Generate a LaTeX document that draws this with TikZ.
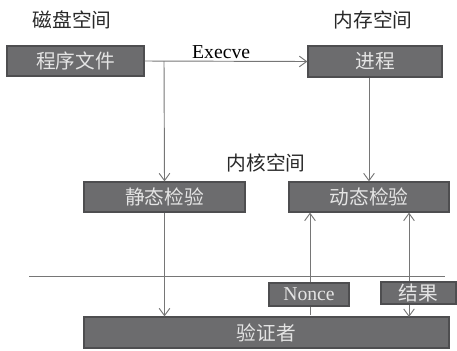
\documentclass[tikz,border=0pt]{standalone}
\usepackage{fontspec}
\setmainfont{Liberation Serif}
\newfontfamily\cjk{Noto Sans CJK SC}
\usetikzlibrary{arrows.meta}
\definecolor{boxfill}{RGB}{108,108,110}
\definecolor{boxline}{RGB}{78,78,80}
\definecolor{boxtext}{RGB}{228,228,228}
\definecolor{wire}{RGB}{118,118,118}
\definecolor{labeltext}{RGB}{40,40,40}
\begin{document}
\begin{tikzpicture}[x=0.03cm,y=-0.03cm,
  every node/.style={font=\fontsize{16.8}{18}\selectfont},
  graybox/.style={draw=boxline,line width=1pt,fill=boxfill,text=boxtext,inner sep=0pt,font=\fontsize{16.8}{18}\selectfont\cjk},
  area/.style={text=labeltext,font=\fontsize{16.8}{18}\selectfont\cjk},
  wireline/.style={draw=wire,line width=0.8pt},
  >={Straight Barb[length=2.2mm,width=3.2mm]}]
\useasboundingbox (0,0) rectangle (457,350);

% Space labels
\node[area] (disk) at (72,20) {磁盘空间};
\node[area] (mem) at (373,20) {内存空间};
\node[area] (kern) at (266,163) {内核空间};

% Main boxes
\node[graybox,minimum width=4.11cm,minimum height=0.9cm] (file) at (75.5,61) {程序文件};
\node[graybox,minimum width=4.02cm,minimum height=0.93cm] (proc) at (375,61.5) {进程};
\node[graybox,minimum width=4.83cm,minimum height=0.9cm] (static) at (164.5,197) {静态检验};
\node[graybox,minimum width=4.8cm,minimum height=0.9cm] (dyn) at (369,197) {动态检验};
\node[graybox,minimum width=10.95cm,minimum height=0.93cm] (ver) at (266.5,332.5) {验证者};

% Connectors
\coordinate (br) at (164,61);
\draw[wireline,->] (file.east) -- (proc.west) node[pos=0.47,anchor=base,text=black,yshift=2pt] (execve) {Execve};
\draw[wireline,->] (br) -- (static.north);
\draw[wireline,->] (proc.south -| dyn.north) -- (dyn.north);
\draw[wireline,->] (static.south) -- (static.south |- ver.north);
\coordinate (nb) at (310,315);
\draw[wireline,->] (nb) -- (nb |- dyn.south);
\coordinate (rb) at (409,317);
\draw[wireline,<->] (rb |- dyn.south) -- (rb);

% Boundary line
\coordinate (kl) at (29,276);
\coordinate (kr) at (445,276);
\draw[wireline] (kl) -- (kr);

% Message boxes
\node[graybox,font=\fontsize{16.8}{18}\selectfont,minimum width=2.4cm,minimum height=0.69cm] (nonce) at (309,294.5) {Nonce};
\node[graybox,minimum width=2.25cm,minimum height=0.66cm] (result) at (418.5,293) {结果};
\end{tikzpicture}
\end{document}
